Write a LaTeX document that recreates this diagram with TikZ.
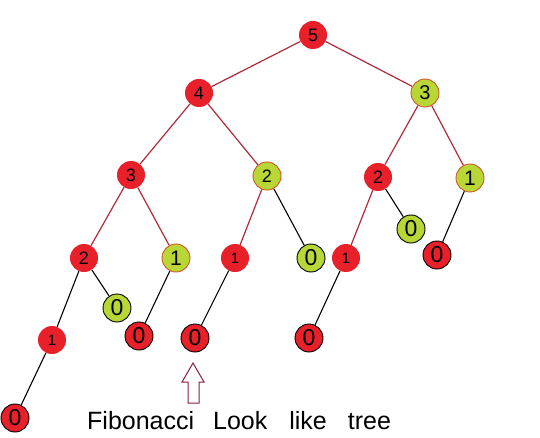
\documentclass[tikz,border=0pt]{standalone}
\usepackage{fontspec}
\setmainfont{Liberation Sans}
\usepackage{xcolor}
\usepackage{tikz}
\definecolor{fibred}{HTML}{E8202A}
\definecolor{fibgreen}{HTML}{B8D737}
\definecolor{rimorange}{HTML}{D0562A}
\definecolor{edgered}{HTML}{B02A3C}
\definecolor{arrowred}{HTML}{8A1F3A}
\tikzset{
  ball/.style     = {circle, minimum size=28pt, inner sep=0pt, font=\fontsize{18}{18}\selectfont},
  redball/.style  = {ball, fill=fibred},
  greenball/.style= {ball, fill=fibgreen, draw=rimorange, line width=0.9pt},
  zero/.style     = {draw=black, line width=0.9pt, font=\fontsize{23}{23}\selectfont},
  redline/.style  = {draw=edgered, line width=1.2pt},
  blackline/.style= {draw=black, line width=1.1pt}
}
\begin{document}
\begin{tikzpicture}[x=1pt, y=-1pt]
  \useasboundingbox (0,0) rectangle (540,438);
  \node [redball]   (root) at (313,35)  {5};
  \node [redball]   (a4)   at (199,93)  {4};
  \node [greenball, font=\fontsize{20}{20}\selectfont] (a3) at (425,93) {3};
  \node [redball]   (b3)   at (131,175) {3};
  \node [greenball] (b2)   at (267,176) {2};
  \node [redball]   (c2)   at (378,177) {2};
  \node [greenball, font=\fontsize{21}{21}\selectfont] (c1) at (470,178) {1};
  \node [redball]   (d2)   at (84,258)  {2};
  \node [greenball, font=\fontsize{21}{21}\selectfont] (d1) at (176,258) {1};
  \node [redball, font=\fontsize{15}{15}\selectfont]   (e1) at (235,258) {1};
  \node [greenball, zero] (e0) at (311,258) {0};
  \node [redball, font=\fontsize{15}{15}\selectfont]   (f1) at (346,258) {1};
  \node [greenball, zero] (g0) at (411,229) {0};
  \node [redball, zero]   (h0) at (437,255) {0};
  \node [greenball, zero] (i0) at (117,308) {0};
  \node [redball, font=\fontsize{15}{15}\selectfont]   (j1) at (52,340) {1};
  \node [redball, zero]   (k0) at (139,336) {0};
  \node [redball, zero]   (l0) at (195,338) {0};
  \node [redball, zero]   (m0) at (309,338) {0};
  \node [redball, zero]   (n0) at (15,418)  {0};

  \path [redline] (root) -- (a4) (root) -- (a3)
    (a4) -- (b3) (a4) -- (b2) (a3) -- (c2) (a3) -- (c1)
    (b3) -- (d2) (b3) -- (d1) (b2) -- (e1) (c2) -- (f1);
  \path [blackline] (b2) -- (e0) (c2) -- (g0) (c1) -- (h0)
    (d2) -- (j1) (d2) -- (i0) (d1) -- (k0) (e1) -- (l0)
    (f1) -- (m0) (j1) -- (n0);

  \coordinate (tip) at (193,363);
  \draw [arrowred, line width=1pt] (tip) -- (204,382) -- (199,382) -- (199,403)
    -- (188,403) -- (188,382) -- (182,382) -- cycle;
  \node [anchor=base west, inner sep=0pt, font=\fontsize{25}{25}\selectfont] (caption) at (87,429)
    {Fibonacci\hspace{19pt}Look\hspace{22pt}like\hspace{21pt}tree};
\end{tikzpicture}
\end{document}
